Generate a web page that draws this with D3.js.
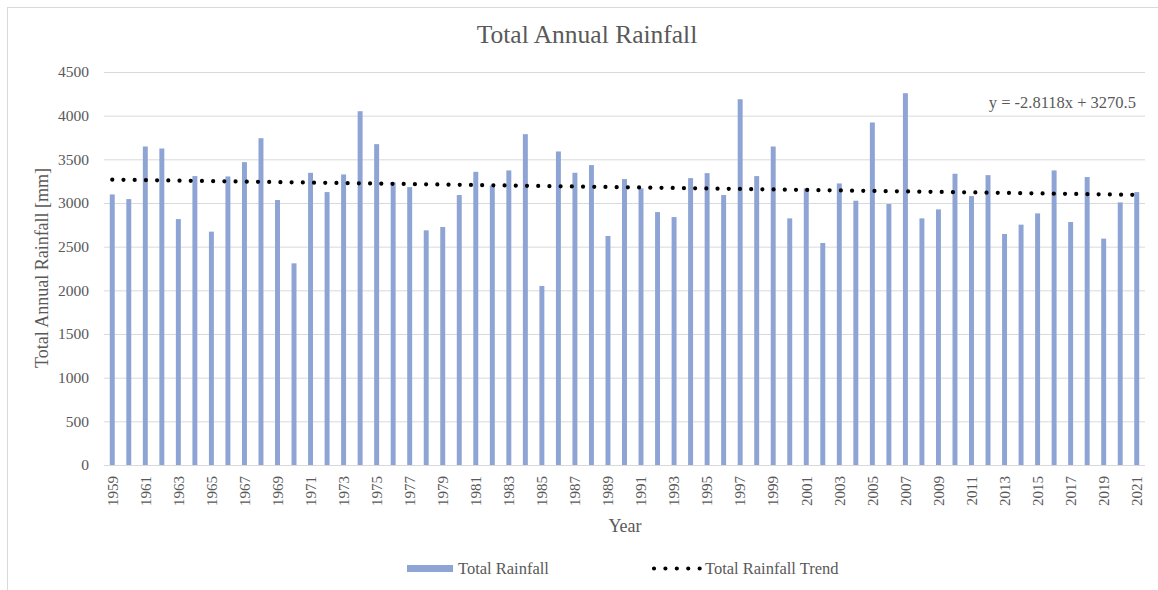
<!DOCTYPE html>
<html>
<head>
<meta charset="utf-8">
<script src="https://cdn.jsdelivr.net/npm/d3@7"></script>
<style>
  html, body { margin: 0; padding: 0; background: #fff; }
  svg { display: block; }
  text { font-family: "Liberation Serif", "Times New Roman", serif; fill: #595959; }
</style>
</head>
<body>
<svg id="chart" width="1158" height="590"></svg>
<script>
// data
const years = d3.range(1959, 2022);
const rainfall = [
  3098, 3045, 3647, 3624, 2816, 3308, 2672, 3304, 3468, 3742,
  3034, 2309, 3346, 3125, 3327, 4051, 3674, 3236, 3182, 2687,
  2725, 3091, 3357, 3201, 3373, 3788, 2050, 3590, 3346, 3434,
  2622, 3274, 3167, 2896, 2839, 3285, 3342, 3091, 4188, 3308,
  3647, 2824, 3167, 2542, 3224, 3026, 3922, 2988, 4257, 2824,
  2927, 3335, 3079, 3319, 2645, 2752, 2881, 3373, 2782, 3297,
  2592, 3007, 3125
];
const yTicks = [0, 500, 1000, 1500, 2000, 2500, 3000, 3500, 4000, 4500];
// trendline as printed on the chart
const trendSlope = -2.8118;
const trendIntercept = 3270.5;
const trendLabel = "y = -2.8118x + 3270.5";

const BAR = "#8EA4D5";
const GRID = "#D9D9D9";

const margin = {top: 72, right: 13, bottom: 125, left: 104};
const W = 1158, H = 590;
const width = W - margin.left - margin.right;
const height = H - margin.top - margin.bottom;

const svg = d3.select("#chart");

// outer chart border (runs off the right/bottom of the picture)
svg.append("rect")
  .attr("x", 7.5).attr("y", 7.5)
  .attr("width", 1200).attr("height", 700)
  .attr("fill", "none").attr("stroke", GRID).attr("stroke-width", 1);

svg.append("text")
  .attr("x", 587).attr("y", 43)
  .attr("text-anchor", "middle")
  .style("font-size", "25.5px")
  .text("Total Annual Rainfall");

const g = svg.append("g").attr("transform", `translate(${margin.left},${margin.top})`);

const x = d3.scaleBand().domain(years).range([0, width]).paddingInner(0.7).paddingOuter(0.35);
const y = d3.scaleLinear().domain([0, 4500]).range([height, 0]);

// gridlines
g.append("g")
  .call(d3.axisLeft(y).tickValues(yTicks).tickSize(-width).tickFormat(""))
  .call(s => s.select(".domain").remove())
  .selectAll("line").attr("stroke", GRID);

// y tick labels
const yAxis = g.append("g")
  .call(d3.axisLeft(y).tickValues(yTicks).tickSize(0).tickPadding(15).tickFormat(d3.format("d")));
yAxis.select(".domain").remove();
yAxis.selectAll("text")
  .style("font-size", "15.5px")
  .style("font-family", "'Liberation Serif', 'Times New Roman', serif")
  .attr("fill", "#595959");

// bars
g.selectAll("rect.bar")
  .data(years)
  .join("rect")
  .attr("class", "bar")
  .attr("x", d => x(d))
  .attr("width", x.bandwidth())
  .attr("y", (d, i) => y(rainfall[i]))
  .attr("height", (d, i) => height - y(rainfall[i]))
  .attr("fill", BAR);

// x axis line
g.append("line")
  .attr("x1", 0).attr("x2", width)
  .attr("y1", height + 0.5).attr("y2", height + 0.5)
  .attr("stroke", GRID);

// x tick labels (every second year)
const xAxis = g.append("g")
  .attr("transform", `translate(0,${height})`)
  .call(d3.axisBottom(x).tickValues(years.filter((d, i) => i % 2 === 0)).tickSize(0));
xAxis.select(".domain").remove();
xAxis.selectAll("text")
  .style("font-size", "15px")
  .style("font-family", "'Liberation Serif', 'Times New Roman', serif")
  .attr("fill", "#595959")
  .attr("text-anchor", "end")
  .attr("dy", "0.35em")
  .attr("transform", "translate(0,11) rotate(-90)")
  .attr("x", 0).attr("y", 0);

// trendline
const cx = d => x(d) + x.bandwidth() / 2;
const trend = years.map((d, i) => [cx(d), y(trendSlope * (i + 1) + trendIntercept)]);
g.append("path")
  .attr("d", d3.line()(trend))
  .attr("fill", "none")
  .attr("stroke", "#000")
  .attr("stroke-width", 4.2)
  .attr("stroke-linecap", "round")
  .attr("stroke-dasharray", "0.01 11.2");

g.append("text")
  .attr("x", 1136 - margin.left).attr("y", 107.5 - margin.top)
  .attr("text-anchor", "end")
  .style("font-size", "16.5px")
  .text(trendLabel);

// axis titles
svg.append("text")
  .attr("transform", "translate(48,268) rotate(-90)")
  .attr("text-anchor", "middle")
  .style("font-size", "18px")
  .text("Total Annual Rainfall [mm]");

svg.append("text")
  .attr("x", 625).attr("y", 531.5)
  .attr("text-anchor", "middle")
  .style("font-size", "18px")
  .text("Year");

// legend
const leg = svg.append("g");
leg.append("rect")
  .attr("x", 407).attr("y", 565).attr("width", 46).attr("height", 7)
  .attr("fill", BAR);
leg.append("text")
  .attr("x", 458).attr("y", 573.5)
  .style("font-size", "16.5px")
  .text("Total Rainfall");
leg.append("line")
  .attr("x1", 654).attr("x2", 700).attr("y1", 568.5).attr("y2", 568.5)
  .attr("stroke", "#000").attr("stroke-width", 4.2)
  .attr("stroke-linecap", "round").attr("stroke-dasharray", "0.01 11.4");
leg.append("text")
  .attr("x", 705).attr("y", 573.5)
  .style("font-size", "16.5px")
  .text("Total Rainfall Trend");
</script>
</body>
</html>
